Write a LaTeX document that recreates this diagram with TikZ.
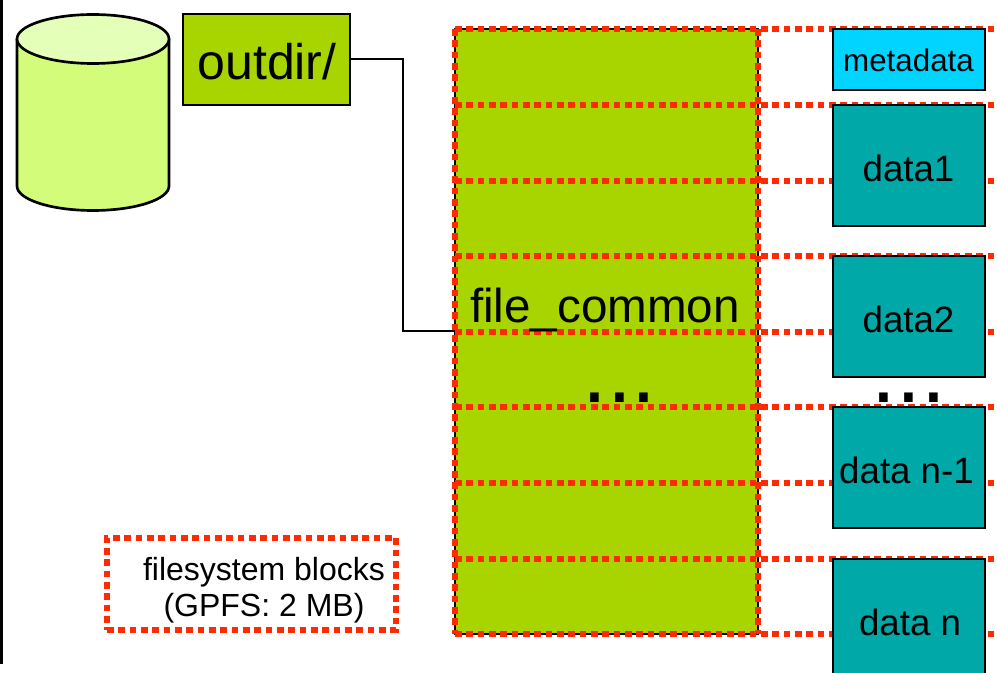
\documentclass[tikz,border=0pt]{standalone}
\usepackage{fontspec}
\usepackage{xcolor}
\setmainfont{Liberation Sans}
\definecolor{dirgreen}{HTML}{A8D400}
\definecolor{diskbody}{HTML}{D2FC7A}
\definecolor{disktop}{HTML}{E4FFB8}
\definecolor{metacyan}{HTML}{00D4FF}
\definecolor{datateal}{HTML}{00A8A8}
\definecolor{blockred}{HTML}{FF2A00}

\begin{document}
\begin{tikzpicture}[x=0.75pt, y=-0.75pt, every node/.style={rectangle, inner sep=0pt, outer sep=0pt},
	box/.style={draw=black, line width=2pt},
	databox/.style={box, fill=datateal, minimum width=114pt, minimum height=90.75pt},
	datatext/.style={font=\fontsize{27.5}{27.5}\selectfont},
	blockline/.style={draw=blockred, line width=3.9pt, dash pattern=on 4.9pt off 3.6pt},
	dots/.style={anchor=base, font=\fontsize{67}{67}\selectfont}]
	\path[use as bounding box, clip] (0,0) rectangle (997,673);
	\draw[line width=2pt] (1.5,0) -- (1.5,664);
	\draw[line width=2pt, fill=diskbody] (17,39) -- (17,186) arc[start angle=180, end angle=0, x radius=76, y radius=24.5] -- (169,39);
	\draw[line width=2pt, fill=disktop] (93,39) ellipse[x radius=76, y radius=24.5];
	\node[box, fill=dirgreen, minimum width=125.25pt, minimum height=68.25pt] (outdir) at (266.5,59.5) {};
	\node[box, fill=dirgreen, minimum width=227.25pt, minimum height=453.75pt] (common) at (606.5,331.5) {};
	\draw[line width=1.5pt] (outdir.east) -- ++(53,0) |- (common.west);
	\foreach \y in {29,105,181,256,332,407,483,559,634}
		\draw[blockline] (455,\y) -- (997,\y);
	\draw[blockline] (common.north west) -- (common.south west);
	\draw[blockline] (common.north east) -- (common.south east);
	\node[box, fill=metacyan, minimum width=114pt, minimum height=45.75pt] (metadata) at (909,59.5) {};
	\node[databox] (data1) at (909,165.5) {};
	\node[databox] (data2) at (909,316.5) {};
	\node[databox] (datan1) at (909,467.5) {};
	\node[databox] (datan) at (909,619.5) {};
	\node[font=\fontsize{37.5}{37.5}\selectfont] (outdirtext) at (267,62) {outdir/};
	\node[font=\fontsize{23.5}{23.5}\selectfont] (metadatatext) at (908.5,60.5) {metadata};
	\node[datatext] (data1text) at (908.5,168) {data1};
	\node[datatext] (data2text) at (908.5,319) {data2};
	\node[datatext] (datan1text) at (906.5,470) {data n-1};
	\node[datatext] (datantext) at (910,622) {data n};
	\node[font=\fontsize{35.7}{35.7}\selectfont] (filecommon) at (605,310) {file\_common};
	\node[dots] (commondots) at (619.5,403) {...};
	\node[dots] (datadots) at (909,403) {...};
	\node[draw=blockred, line width=3.9pt, dash pattern=on 4.9pt off 3.6pt, minimum width=216.75pt, minimum height=69pt] (blocks) at (251.5,584) {};
	\node[align=center, font=\fontsize{24}{27}\selectfont] (blockstext) at (264,590) {filesystem blocks\\(GPFS: 2 MB)};
\end{tikzpicture}
\end{document}
